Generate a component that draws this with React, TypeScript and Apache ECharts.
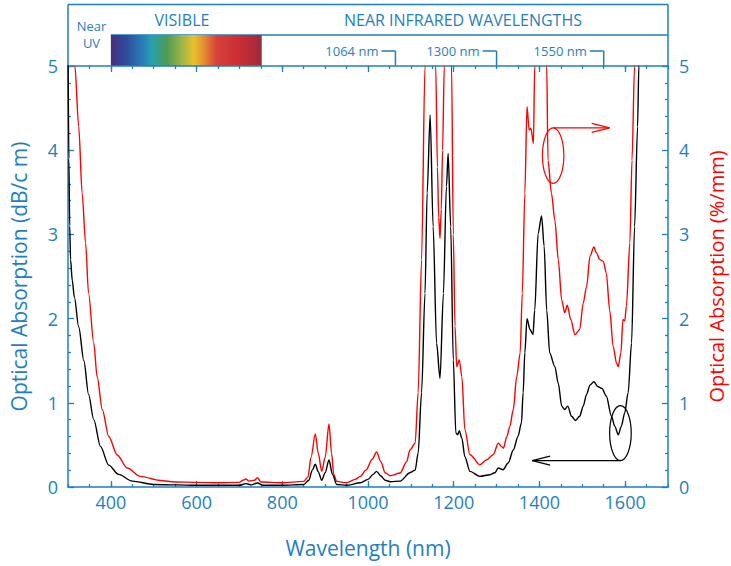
import React, { useEffect, useRef } from "react";
import * as echarts from "echarts";

const BLUE = "#1f7fc1";
const RED = "#ff0000";
const FONT = '"Open Sans", sans-serif';

const xLabelValues = [400, 600, 800, 1000, 1200, 1400, 1600];
const headerMarkers = [1064, 1300, 1550];
const visibleRange = [400, 752];

// Optical absorption (dB/cm) – black curve
const absorptionDbPerCm: number[][] = [
  [300, 5.3], [302, 3.9], [304, 3.1], [306, 2.7], [310, 2.45], [315, 2.25], [325, 1.9],
  [337, 1.5], [348, 1.1], [360, 0.8], [376, 0.48], [395, 0.26], [418, 0.15], [450, 0.07],
  [500, 0.03], [550, 0.025], [600, 0.02], [650, 0.02], [700, 0.02], [715, 0.04], [728, 0.025],
  [742, 0.047], [755, 0.02], [800, 0.02], [850, 0.03], [862, 0.08], [870, 0.2], [877, 0.27],
  [884, 0.18], [892, 0.08], [900, 0.17], [909, 0.32], [917, 0.15], [927, 0.03], [950, 0.02],
  [982, 0.05], [1000, 0.09], [1012, 0.15], [1020, 0.185], [1030, 0.13], [1040, 0.08],
  [1052, 0.063], [1075, 0.07], [1098, 0.17], [1110, 0.2], [1117, 0.4], [1125, 1.12],
  [1133, 2.3], [1138, 3.49], [1145, 4.42], [1152, 3.09], [1160, 1.71], [1168, 1.29],
  [1176, 2.3], [1183, 3.57], [1187, 3.96], [1193, 3.09], [1199, 1.51], [1205, 0.64],
  [1209, 0.62], [1213, 0.67], [1219, 0.58], [1226, 0.36], [1238, 0.185], [1261, 0.126],
  [1285, 0.146], [1296, 0.17], [1304, 0.225], [1315, 0.205], [1327, 0.285], [1339, 0.44],
  [1350, 0.6], [1358, 0.76], [1362, 1.12], [1366, 1.6], [1371, 2.0], [1378, 1.87], [1385, 1.81],
  [1389, 2.1], [1397, 3.01], [1405, 3.22], [1411, 2.86], [1417, 2.1], [1424, 1.59],
  [1436, 1.43], [1444, 1.23], [1452, 0.96], [1459, 0.92], [1466, 0.96], [1475, 0.84],
  [1484, 0.79], [1494, 0.84], [1502, 0.96], [1510, 1.1], [1518, 1.21], [1527, 1.25],
  [1537, 1.19], [1546, 1.17], [1556, 1.08], [1568, 0.84], [1576, 0.72], [1584, 0.62],
  [1591, 0.72], [1599, 0.88], [1607, 1.12], [1615, 1.71], [1622, 3.09], [1629, 4.28],
  [1632, 5.0], [1640, 6.5],
];

// Optical absorption (%/mm) – red curve
const absorptionPctPerMm: number[][] = [
  [312, 5.5], [316, 5.0], [325, 4.28], [333, 3.49], [341, 2.9], [348, 2.3], [360, 1.71],
  [368, 1.31], [380, 0.92], [395, 0.6], [415, 0.38], [438, 0.225], [469, 0.126], [515, 0.078],
  [550, 0.06], [600, 0.055], [650, 0.05], [700, 0.055], [708, 0.08], [715, 0.095], [722, 0.07],
  [735, 0.08], [742, 0.11], [750, 0.06], [800, 0.05], [850, 0.067], [860, 0.12], [867, 0.35],
  [877, 0.63], [884, 0.4], [892, 0.185], [900, 0.35], [909, 0.75], [915, 0.4], [920, 0.15],
  [927, 0.067], [950, 0.05], [970, 0.09], [982, 0.126], [995, 0.2], [1010, 0.33], [1020, 0.415],
  [1030, 0.3], [1040, 0.17], [1052, 0.134], [1075, 0.166], [1090, 0.3], [1098, 0.44],
  [1110, 0.52], [1117, 1.12], [1125, 2.7], [1133, 5.0], [1140, 7], [1150, 7], [1158, 5.0],
  [1162, 3.8], [1165, 3.2], [1168, 2.95], [1171, 3.3], [1174, 4.0], [1178, 5.0], [1186, 7],
  [1195, 5.0], [1199, 3.0], [1203, 1.91], [1207, 1.43], [1213, 1.51], [1219, 1.31],
  [1226, 0.68], [1238, 0.383], [1261, 0.265], [1277, 0.324], [1292, 0.383], [1304, 0.52],
  [1312, 0.48], [1316, 0.46], [1324, 0.6], [1331, 0.72], [1339, 0.92], [1347, 1.31],
  [1355, 1.59], [1360, 2.3], [1366, 3.49], [1371, 4.52], [1376, 4.24], [1380, 4.26],
  [1386, 4.08], [1389, 5.0], [1400, 7], [1410, 7], [1417, 5.0], [1420, 3.88], [1428, 3.49],
  [1436, 3.17], [1444, 2.7], [1452, 2.22], [1459, 2.07], [1465, 2.16], [1473, 1.99],
  [1483, 1.81], [1494, 1.87], [1502, 2.18], [1510, 2.38], [1518, 2.74], [1527, 2.85],
  [1533, 2.78], [1541, 2.7], [1549, 2.68], [1556, 2.54], [1564, 2.1], [1572, 1.67],
  [1580, 1.47], [1584, 1.43], [1590, 1.59], [1595, 1.99], [1599, 1.97], [1603, 2.15],
  [1611, 2.9], [1616, 3.88], [1622, 5.0], [1630, 7],
];

// annotation anchors (data coordinates)
const redMarkCenter = [1432, 3.935];
const redArrowTo = 1564;
const blackMarkCenter = [1589, 0.64];
const blackArrowTo = 1383;

function txt(text: string, x: number, y: number, size: number, align: string, fill = BLUE) {
  return {
    type: "text",
    style: {
      text, x, y, fill,
      font: `${size}px ${FONT}`,
      textAlign: align, align,
      textVerticalAlign: "middle", verticalAlign: "middle",
    },
    silent: true,
  };
}
function seg(x1: number, y1: number, x2: number, y2: number, stroke: string, w = 1.5) {
  return { type: "line", shape: { x1, y1, x2, y2 }, style: { stroke, lineWidth: w }, silent: true };
}

export default function App() {
  const ref = useRef<HTMLDivElement>(null);
  useEffect(() => {
    document.body.style.margin = "0";
    const chart = echarts.init(ref.current!, undefined, { renderer: "svg" });
    const axisLine = { show: true, lineStyle: { color: BLUE, width: 1.5 } };
    const labelStyle = { color: BLUE, fontFamily: FONT, fontSize: 18 };
    const baseX = { type: "value", min: 300, max: 1700, splitLine: { show: false } };
    const lineSeries = { type: "line", showSymbol: false, symbol: "none", clip: true, smooth: 0.3, smoothMonotone: "x" };
    const option: any = {
      animation: false,
      grid: { left: 68, right: 63, top: 66, bottom: 79, containLabel: false, outerBoundsMode: "none" },
      xAxis: [
        {
          ...baseX, position: "bottom", interval: 50,
          axisLine,
          axisTick: { show: true, inside: true, length: 3, lineStyle: { color: BLUE, width: 1.3 } },
          axisLabel: { ...labelStyle, margin: 6, customValues: xLabelValues, formatter: (v: number) => String(v) },
          name: "Wavelength (nm)", nameLocation: "middle", nameGap: 50,
          nameTextStyle: { color: BLUE, fontFamily: FONT, fontSize: 21 },
        },
        {
          ...baseX, position: "bottom",
          axisLine: { show: false },
          axisTick: { show: true, inside: true, length: 6, customValues: xLabelValues, lineStyle: { color: BLUE, width: 1.3 } },
          axisLabel: { show: false },
        },
        {
          ...baseX, position: "top", interval: 50,
          axisLine,
          axisTick: { show: true, inside: true, length: 3, lineStyle: { color: BLUE, width: 1.3 } },
          axisLabel: { show: false },
        },
        {
          ...baseX, position: "top",
          axisLine: { show: false },
          axisTick: { show: true, inside: true, length: 6, customValues: xLabelValues, lineStyle: { color: BLUE, width: 1.3 } },
          axisLabel: { show: false },
        },
      ],
      yAxis: [
        {
          type: "value", min: 0, max: 5, interval: 1, position: "left",
          axisLine, splitLine: { show: false },
          axisTick: { show: true, inside: true, length: 6, lineStyle: { color: BLUE, width: 1.3 } },
          minorTick: { show: true, splitNumber: 5, length: 3, lineStyle: { color: BLUE, width: 1.3 } },
          axisLabel: { ...labelStyle, margin: 10 },
          name: "Optical Absorption (dB/c m)", nameLocation: "middle", nameGap: 39, nameRotate: 90,
          nameTextStyle: { color: BLUE, fontFamily: FONT, fontSize: 21 },
        },
        {
          type: "value", min: 0, max: 5, interval: 1, position: "right",
          axisLine, splitLine: { show: false },
          axisTick: { show: true, inside: true, length: 6, lineStyle: { color: BLUE, width: 1.3 } },
          minorTick: { show: true, splitNumber: 5, length: 3, lineStyle: { color: BLUE, width: 1.3 } },
          axisLabel: { ...labelStyle, margin: 11 },
          name: "Optical Absorption (%/mm)", nameLocation: "middle", nameGap: 38, nameRotate: 90,
          nameTextStyle: { color: RED, fontFamily: FONT, fontSize: 20 },
        },
      ],
      series: [
        {
          ...lineSeries, name: "%/mm", xAxisIndex: 0, yAxisIndex: 1, data: absorptionPctPerMm,
          lineStyle: { color: RED, width: 1.4 },
        },
        {
          ...lineSeries, name: "dB/cm", xAxisIndex: 0, yAxisIndex: 0, data: absorptionDbPerCm,
          lineStyle: { color: "#000000", width: 1.4 },
        },
      ],
    };
    chart.setOption(option);

    const px = (x: number, y: number) => chart.convertToPixel({ gridIndex: 0 } as any, [x, y]) as number[];
    const [gx0, gyTop] = px(300, 5);
    const [gx1] = px(1700, 5);
    const headTop = 4.5;
    const divY = 35;
    const markY = 51;
    const [vx0] = px(visibleRange[0], 5);
    const [vx1] = px(visibleRange[1], 5);

    const els: any[] = [
      seg(gx0, headTop, gx1, headTop, BLUE),
      seg(gx0, headTop, gx0, gyTop, BLUE),
      seg(gx1, headTop, gx1, gyTop, BLUE),
      seg(vx0, divY, gx1, divY, BLUE),
      {
        type: "rect",
        shape: { x: vx0, y: divY, width: vx1 - vx0, height: gyTop - divY },
        style: {
          fill: new echarts.graphic.LinearGradient(0, 0, 1, 0, [
            { offset: 0, color: "#4a2d7e" },
            { offset: 0.1, color: "#2f4a9a" },
            { offset: 0.2, color: "#2a78b5" },
            { offset: 0.27, color: "#26a0b0" },
            { offset: 0.37, color: "#4f9a55" },
            { offset: 0.47, color: "#9eb548" },
            { offset: 0.55, color: "#e8c22c" },
            { offset: 0.62, color: "#e58a32" },
            { offset: 0.7, color: "#d8413a" },
            { offset: 0.85, color: "#cc2d34" },
            { offset: 1, color: "#9c2b3c" },
          ]),
        },
        silent: true,
      },
      txt("Near", 91.5, 26, 13, "center"),
      txt("UV", 91.5, 43, 13, "center"),
      txt("VISIBLE", 182, 20, 16, "center"),
      txt("NEAR INFRARED WAVELENGTHS", 463, 20, 16, "center"),
    ];
    headerMarkers.forEach((m) => {
      const [mx] = px(m, 5);
      els.push(seg(mx - 14, markY, mx, markY, BLUE));
      els.push(seg(mx, markY, mx, gyTop, BLUE));
      els.push(txt(`${m} nm`, mx - 17, markY, 13, "right"));
    });

    const [rcx, rcy] = px(redMarkCenter[0], redMarkCenter[1]);
    const [rax] = px(redArrowTo, 0);
    const rry = 27.8;
    els.push({ type: "ellipse", shape: { cx: rcx, cy: rcy, rx: 10.7, ry: rry }, style: { fill: "none", stroke: RED, lineWidth: 1.2 }, silent: true });
    els.push(seg(rcx, rcy - rry, rax, rcy - rry, RED, 1.2));
    els.push({ type: "polyline", shape: { points: [[rax - 18, rcy - rry - 4.5], [rax, rcy - rry], [rax - 18, rcy - rry + 4.5]] }, style: { fill: "none", stroke: RED, lineWidth: 1.2 }, silent: true });

    const [bcx, bcy] = px(blackMarkCenter[0], blackMarkCenter[1]);
    const [bax] = px(blackArrowTo, 0);
    const bry = 27.5;
    els.push({ type: "ellipse", shape: { cx: bcx, cy: bcy, rx: 10.8, ry: bry }, style: { fill: "none", stroke: "#000", lineWidth: 1.2 }, silent: true });
    els.push(seg(bcx, bcy + bry, bax, bcy + bry, "#000", 1.2));
    els.push({ type: "polyline", shape: { points: [[bax + 18, bcy + bry - 4.5], [bax, bcy + bry], [bax + 18, bcy + bry + 4.5]] }, style: { fill: "none", stroke: "#000", lineWidth: 1.2 }, silent: true });

    chart.setOption({ graphic: { elements: els } });
    return () => chart.dispose();
  }, []);
  return <div ref={ref} style={{ width: 731, height: 566 }} />;
}
